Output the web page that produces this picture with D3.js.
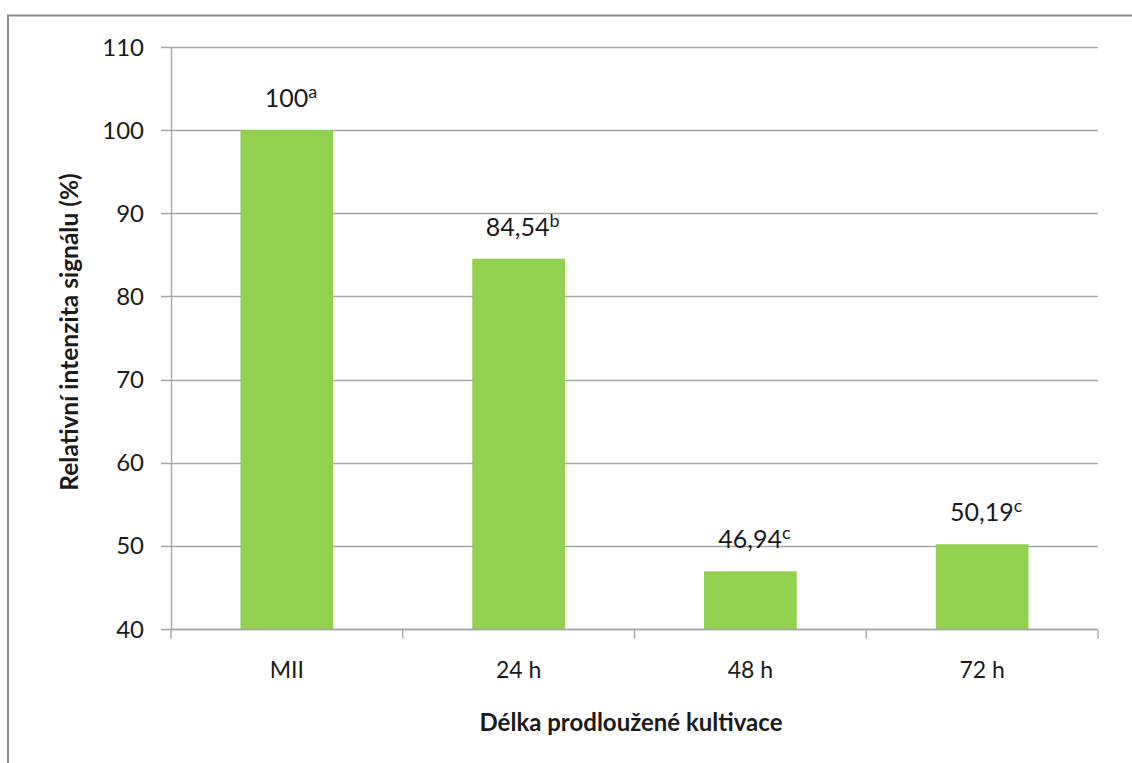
<!DOCTYPE html>
<html>
<head>
<meta charset="utf-8">
<script src="https://cdn.jsdelivr.net/npm/d3@7"></script>
<style>
  html, body { margin: 0; padding: 0; background: #fff; }
  svg { display: block; }
  text { font-family: Lato, "Open Sans", sans-serif; fill: #1a1a1a; }
</style>
</head>
<body>
<script>
// Relative signal intensity after prolonged cultivation
const categories = ["MII", "24 h", "48 h", "72 h"];
const values = [100, 84.54, 46.94, 50.19];
const valueLabels = ["100", "84,54", "46,94", "50,19"];
const groupLetters = ["a", "b", "c", "c"];
const yTicks = [40, 50, 60, 70, 80, 90, 100, 110];

const W = 1132, H = 763;
const margin = { left: 171, right: 34, top: 47, bottom: 134 };

const svg = d3.select("body").append("svg")
  .attr("width", W).attr("height", H);

// outer frame
svg.append("path")
  .attr("d", `M8,${H + 2} L8,15.5 L${W + 2},15.5`)
  .attr("fill", "none")
  .attr("stroke", "#8c8c8c")
  .attr("stroke-width", 2);

const x = d3.scaleBand()
  .domain(categories)
  .range([margin.left, W - margin.right])
  .paddingInner(0.6)
  .paddingOuter(0.3);

const y = d3.scaleLinear()
  .domain([40, 110])
  .range([H - margin.bottom, margin.top]);

// horizontal gridlines
svg.append("g")
  .selectAll("line")
  .data(yTicks)
  .join("line")
  .attr("x1", margin.left - 10)
  .attr("x2", W - margin.right)
  .attr("y1", d => Math.round(y(d)) + 0.5)
  .attr("y2", d => Math.round(y(d)) + 0.5)
  .attr("stroke", "#a6a6a6")
  .attr("stroke-width", 1.4);

// y axis line
svg.append("line")
  .attr("x1", margin.left + 0.5).attr("x2", margin.left + 0.5)
  .attr("y1", y(110)).attr("y2", y(40))
  .attr("stroke", "#a6a6a6").attr("stroke-width", 1.4);

// y tick labels
svg.append("g")
  .selectAll("text")
  .data(yTicks)
  .join("text")
  .attr("x", margin.left - 27)
  .attr("y", d => y(d))
  .attr("dy", "0.36em")
  .attr("text-anchor", "end")
  .attr("font-size", 24)
  .text(d => d);

// bars
svg.append("g")
  .selectAll("rect")
  .data(values)
  .join("rect")
  .attr("x", (d, i) => x(categories[i]))
  .attr("width", x.bandwidth())
  .attr("y", d => y(d))
  .attr("height", d => y(40) - y(d))
  .attr("fill", "#92d050");

// x axis baseline and category boundary ticks
const xAxisY = Math.round(y(40)) + 0.5;
svg.append("line")
  .attr("x1", margin.left).attr("x2", W - margin.right)
  .attr("y1", xAxisY).attr("y2", xAxisY)
  .attr("stroke", "#a6a6a6").attr("stroke-width", 1.4);

const step = x.step();
const boundaries = d3.range(categories.length + 1).map(i => margin.left + i * step);
svg.append("g")
  .selectAll("line")
  .data(boundaries)
  .join("line")
  .attr("x1", d => d).attr("x2", d => d)
  .attr("y1", xAxisY).attr("y2", xAxisY + 9)
  .attr("stroke", "#a6a6a6").attr("stroke-width", 1.4);

// category labels
svg.append("g")
  .selectAll("text")
  .data(categories)
  .join("text")
  .attr("x", d => x(d) + x.bandwidth() / 2)
  .attr("y", 678)
  .attr("text-anchor", "middle")
  .attr("font-size", 23)
  .text(d => d);

// value labels with group letters
const vl = svg.append("g")
  .selectAll("text")
  .data(values)
  .join("text")
  .attr("x", (d, i) => x(categories[i]) + x.bandwidth() / 2 + 4)
  .attr("y", d => y(d) - 23)
  .attr("text-anchor", "middle")
  .attr("font-size", 25);
vl.append("tspan").text((d, i) => valueLabels[i]);
vl.append("tspan")
  .attr("dy", -9)
  .attr("font-size", 18)
  .text((d, i) => groupLetters[i]);

// axis titles
svg.append("text")
  .attr("transform", `translate(78,${(y(40) + y(110)) / 2 - 6}) rotate(-90)`)
  .attr("text-anchor", "middle")
  .attr("font-size", 24.5)
  .attr("font-weight", "bold")
  .text("Relativní intenzita signálu (%)");

svg.append("text")
  .attr("x", 631)
  .attr("y", 731)
  .attr("text-anchor", "middle")
  .attr("font-size", 24)
  .attr("font-weight", "bold")
  .text("Délka prodloužené kultivace");
</script>
</body>
</html>
